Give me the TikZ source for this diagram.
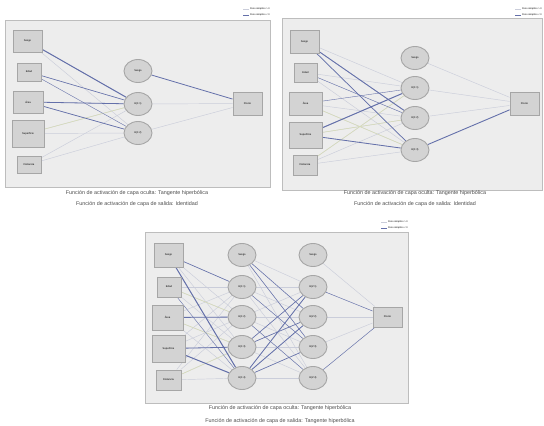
\documentclass[tikz,border=0pt]{standalone}
\usepackage{fontspec}
\setmainfont{Liberation Sans}
\usetikzlibrary{shapes.geometric,backgrounds}
\definecolor{panelbg}{HTML}{EDEDED}
\definecolor{panelline}{HTML}{BDBDBD}
\definecolor{nodefill}{HTML}{D3D3D3}
\definecolor{nodeline}{HTML}{A6A6A6}
\definecolor{negblue}{HTML}{6470AA}
\definecolor{posgray}{HTML}{CACDDA}
\definecolor{posgreen}{HTML}{D8DDB4}

\tikzset{
  panel/.style={draw=panelline, fill=panelbg, line width=0.8},
  inbox/.style={draw=nodeline, fill=nodefill, line width=0.9, inner sep=0,
    font=\fontsize{2.6}{3}\selectfont},
  hid/.style={ellipse, draw=nodeline, fill=nodefill, line width=0.9, inner sep=0,
    minimum width=28, minimum height=23, font=\fontsize{2.6}{3}\selectfont},
  pos/.style={draw=posgray, line width=#1}, pos/.default=0.45,
  neg/.style={draw=negblue, line width=#1}, neg/.default=0.6,
  pale/.style={draw=posgreen, line width=0.5},
  legend/.style={anchor=east, inner sep=0, font=\fontsize{2.4}{3}\selectfont},
  caption/.style={inner sep=0, font=\fontsize{5.4}{6}\selectfont, text=black!70}
}

\begin{document}
\begin{tikzpicture}[x=1pt,y=-1pt]
  \useasboundingbox (0,0) rectangle (544,426);

  % panel 1
  \node[inbox, minimum width=29, minimum height=22] (a1) at (27.5,41) {Sesgo};
  \node[inbox, minimum width=24, minimum height=18] (a2) at (29,72) {Edad};
  \node[inbox, minimum width=30, minimum height=22] (a3) at (28,102) {Área};
  \node[inbox, minimum width=32, minimum height=27] (a4) at (28,133.5) {Superficie};
  \node[inbox, minimum width=24, minimum height=17] (a5) at (29,164.5) {Distancia};
  \node[hid] (b0) at (138,71) {Sesgo};
  \node[hid] (b1) at (138,104) {H(1:1)};
  \node[hid] (b2) at (138,133) {H(1:2)};
  \node[inbox, minimum width=29, minimum height=23] (c1) at (247.5,103.5) {Precio};

  \node[legend] (p1pos) at (270,9) {Peso sináptico > 0};
  \node[legend] (p1neg) at (270,15) {Peso sináptico < 0};
  \draw[pos=0.6] ([xshift=-1]p1pos.west) -- ++(-6,0);
  \draw[neg] ([xshift=-1]p1neg.west) -- ++(-6,0);
  \node[caption] (t1a) at (137,193) {Función de activación de capa oculta: Tangente hiperbólica};
  \node[caption] (t1b) at (137,204) {Función de activación de capa de salida: Identidad};

  \begin{pgfonlayer}{background}
    \draw[panel] (5,20) rectangle (270,187);
    \foreach \i in {1,...,5}
      \foreach \j in {1,2}
        \draw[pos] (a\i) -- (b\j);
    \draw[pos] (b1) -- (c1);
    \draw[pos] (b2) -- (c1);
    \draw[pale] (a4) -- (b1);
    \draw[neg=1.0] (a1) -- (b1);
    \draw[neg=0.6] (a2) -- (b1);
    \draw[neg=0.8] (a3) -- (b1);
    \draw[neg=0.7] (a3) -- (b2);
    \draw[neg=0.3] (a2) -- (b2);
    \draw[neg=0.8] (b0) -- (c1);
  \end{pgfonlayer}

  % panel 2
  \node[inbox, minimum width=29, minimum height=23] (d1) at (304.5,41.5) {Sesgo};
  \node[inbox, minimum width=23, minimum height=19] (d2) at (305.5,72.5) {Edad};
  \node[inbox, minimum width=33, minimum height=23] (d3) at (305.5,103.5) {Área};
  \node[inbox, minimum width=33, minimum height=26] (d4) at (305.5,135) {Superficie};
  \node[inbox, minimum width=24, minimum height=20] (d5) at (305,165) {Distancia};
  \node[hid] (e0) at (415,58) {Sesgo};
  \node[hid] (e1) at (415,88) {H(1:1)};
  \node[hid] (e2) at (415,118) {H(1:2)};
  \node[hid] (e3) at (415,150) {H(1:3)};
  \node[inbox, minimum width=29, minimum height=23] (f1) at (524.5,103.5) {Precio};

  \node[legend] (p2pos) at (542,9) {Peso sináptico > 0};
  \node[legend] (p2neg) at (542,15) {Peso sináptico < 0};
  \draw[pos=0.6] ([xshift=-1]p2pos.west) -- ++(-6,0);
  \draw[neg] ([xshift=-1]p2neg.west) -- ++(-6,0);
  \node[caption] (t2a) at (415,193) {Función de activación de capa oculta: Tangente hiperbólica};
  \node[caption] (t2b) at (415,204) {Función de activación de capa de salida: Identidad};

  \begin{pgfonlayer}{background}
    \draw[panel] (282,18) rectangle (542,190);
    \foreach \i in {1,...,5}
      \foreach \j in {1,2,3}
        \draw[pos] (d\i) -- (e\j);
    \foreach \j in {0,1,2}
      \draw[pos] (e\j) -- (f1);
    \draw[pale] (d4) -- (e2);
    \draw[pale] (d5) -- (e1);
    \draw[pale] (d3) -- (e3);
    \draw[neg=0.9] (d1) -- (e2);
    \draw[neg=0.7] (d1) -- (e3);
    \draw[neg=0.35] (d2) -- (e2);
    \draw[neg=0.3] (d3) -- (e1);
    \draw[neg=1.0] (d4) -- (e1);
    \draw[neg=0.8] (d4) -- (e3);
    \draw[neg=0.9] (e3) -- (f1);
  \end{pgfonlayer}

  % panel 3
  \node[inbox, minimum width=29, minimum height=24] (g1) at (168.5,255) {Sesgo};
  \node[inbox, minimum width=24, minimum height=20] (g2) at (169,287) {Edad};
  \node[inbox, minimum width=31, minimum height=25] (g3) at (167.5,317.5) {Área};
  \node[inbox, minimum width=33, minimum height=27] (g4) at (168.5,348.5) {Superficie};
  \node[inbox, minimum width=25, minimum height=20] (g5) at (168.5,380) {Distancia};
  \node[hid] (h0) at (242,255) {Sesgo};
  \node[hid] (h1) at (242,287) {H(1:1)};
  \node[hid] (h2) at (242,317) {H(1:2)};
  \node[hid] (h3) at (242,347) {H(1:3)};
  \node[hid] (h4) at (242,378) {H(1:4)};
  \node[hid] (k0) at (313,255) {Sesgo};
  \node[hid] (k1) at (313,287) {H(2:1)};
  \node[hid] (k2) at (313,317) {H(2:2)};
  \node[hid] (k3) at (313,347) {H(2:3)};
  \node[hid] (k4) at (313,378) {H(2:4)};
  \node[inbox, minimum width=29, minimum height=20] (m1) at (387.5,317) {Precio};

  \node[legend] (p3pos) at (408,222) {Peso sináptico > 0};
  \node[legend] (p3neg) at (408,228) {Peso sináptico < 0};
  \draw[pos=0.6] ([xshift=-1]p3pos.west) -- ++(-6,0);
  \draw[neg] ([xshift=-1]p3neg.west) -- ++(-6,0);
  \node[caption] (t3a) at (280,408) {Función de activación de capa oculta: Tangente hiperbólica};
  \node[caption] (t3b) at (280,421) {Función de activación de capa de salida: Tangente hiperbólica};

  \begin{pgfonlayer}{background}
    \draw[panel] (145,232) rectangle (408,403);
    \foreach \i in {1,...,5}
      \foreach \j in {1,...,4}
        \draw[pos] (g\i) -- (h\j);
    \foreach \i in {0,...,4}
      \foreach \j in {1,...,4}
        \draw[pos] (h\i) -- (k\j);
    \foreach \j in {0,...,4}
      \draw[pos] (k\j) -- (m1);
    \draw[pale] (g2) -- (h2);
    \draw[pale] (g3) -- (h3);
    \draw[pale] (g5) -- (h3);
    \draw[neg=0.6] (g1) -- (h1);
    \draw[neg=1.0] (g1) -- (h4);
    \draw[neg=0.3] (g2) -- (h4);
    \draw[neg=0.8] (g3) -- (h2);
    \draw[neg=0.8] (g4) -- (h3);
    \draw[neg=1.0] (g4) -- (h4);
    \draw[neg=0.5] (h0) -- (k2);
    \draw[neg=0.5] (h0) -- (k3);
    \draw[neg=0.4] (h1) -- (k3);
    \draw[neg=0.4] (h2) -- (k4);
    \draw[neg=0.6] (h3) -- (k1);
    \draw[neg=0.6] (h3) -- (k2);
    \draw[neg=0.8] (h4) -- (k1);
    \draw[neg=0.8] (h4) -- (k2);
    \draw[neg=0.6] (h4) -- (k3);
    \draw[neg=0.4] (k1) -- (m1);
    \draw[neg=0.4] (k4) -- (m1);
  \end{pgfonlayer}

\end{tikzpicture}
\end{document}
